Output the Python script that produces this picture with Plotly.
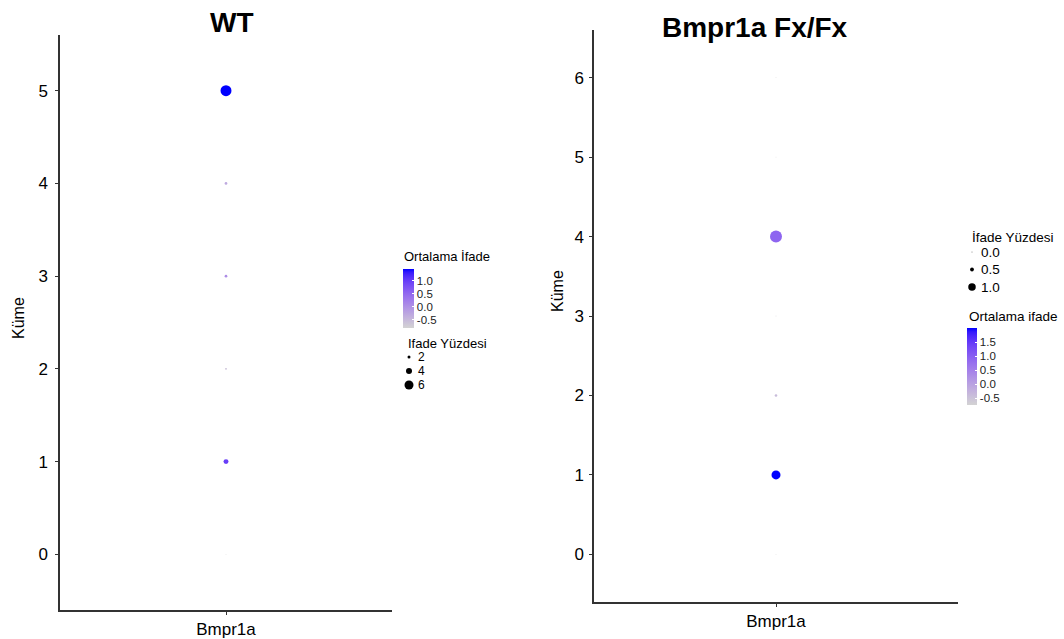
import plotly.graph_objects as go

# ---------------- data ----------------
gene = ["Bmpr1a"]
wt_clusters = [0, 1, 2, 3, 4, 5]
wt_avg_exp = [-0.81, 1.0, -0.6, 0.05, -0.3, 1.46]
wt_pct_exp = [0.6, 3.3, 1.3, 1.8, 1.8, 7.3]
wt_size_breaks = [2, 4, 6]
wt_size_labels = ["2", "4", "6"]

fx_clusters = [0, 1, 2, 3, 4, 5, 6]
fx_avg_exp = [-0.75, 2.0, -0.4, -0.7, 0.9, -0.72, -0.74]
fx_pct_exp = [0.12, 1.2, 0.35, 0.12, 1.6, 0.12, 0.12]
fx_size_breaks = [0.0, 0.5, 1.0]
fx_size_labels = ["0.0", "0.5", "1.0"]

left_ticks = [0, 1, 2, 3, 4, 5]
right_ticks = [0, 1, 2, 3, 4, 5, 6]

# ---------------- styling helpers ----------------
W, H = 1064, 639
FONT = "Liberation Sans, Arial, Helvetica, sans-serif"
WT_SCALE = 1.5   # px diameter per percent
FX_SCALE = 7.5


def _lin(c):
    c = c / 255.0
    return c / 12.92 if c <= 0.04045 else ((c + 0.055) / 1.055) ** 2.4


def _gam(c):
    c = max(0.0, min(1.0, c))
    v = 12.92 * c if c <= 0.0031308 else 1.055 * c ** (1 / 2.4) - 0.055
    return int(round(v * 255))


def rgb2lab(rgb):
    r, g, b = [_lin(v) for v in rgb]
    x = (0.4124 * r + 0.3576 * g + 0.1805 * b) / 0.95047
    y = (0.2126 * r + 0.7152 * g + 0.0722 * b) / 1.0
    z = (0.0193 * r + 0.1192 * g + 0.9505 * b) / 1.08883
    f = lambda t: t ** (1 / 3) if t > 0.008856 else 7.787 * t + 16 / 116
    fx, fy, fz = f(x), f(y), f(z)
    return (116 * fy - 16, 500 * (fx - fy), 200 * (fy - fz))


def lab2rgb(lab):
    L, a, bb = lab
    fy = (L + 16) / 116
    fx = fy + a / 500
    fz = fy - bb / 200
    finv = lambda t: t ** 3 if t ** 3 > 0.008856 else (t - 16 / 116) / 7.787
    x, y, z = finv(fx) * 0.95047, finv(fy), finv(fz) * 1.08883
    r = 3.2406 * x - 1.5372 * y - 0.4986 * z
    g = -0.9689 * x + 1.8758 * y + 0.0415 * z
    b = 0.0557 * x - 0.2040 * y + 1.0570 * z
    return (_gam(r), _gam(g), _gam(b))


lo, hi = rgb2lab((211, 211, 211)), rgb2lab((0, 0, 255))
colorscale = []
for i in range(21):
    t = i / 20
    c = lab2rgb(tuple(lo[k] + (hi[k] - lo[k]) * t for k in range(3)))
    colorscale.append([t, "rgb(%d,%d,%d)" % c])


def px_x(p):
    return p / W


def px_y(p):
    return 1 - p / H


fig = go.Figure()

# main dot traces
fig.add_trace(go.Scatter(
    x=gene * len(wt_clusters), y=wt_clusters, mode="markers",
    marker=dict(size=[p * WT_SCALE for p in wt_pct_exp], color=wt_avg_exp,
                coloraxis="coloraxis", line=dict(width=0), opacity=1),
    xaxis="x", yaxis="y", showlegend=False, hoverinfo="skip"))
fig.add_trace(go.Scatter(
    x=gene * len(fx_clusters), y=fx_clusters, mode="markers",
    marker=dict(size=[p * FX_SCALE for p in fx_pct_exp], color=fx_avg_exp,
                coloraxis="coloraxis2", line=dict(width=0), opacity=1),
    xaxis="x2", yaxis="y2", showlegend=False, hoverinfo="skip"))

# size legends drawn on small helper axes
fig.add_trace(go.Scatter(
    x=[0] * len(wt_size_breaks), y=wt_size_labels, mode="markers",
    marker=dict(size=[b * WT_SCALE for b in wt_size_breaks], color="black",
                line=dict(width=0), opacity=1),
    xaxis="x3", yaxis="y3", showlegend=False, hoverinfo="skip"))
fig.add_trace(go.Scatter(
    x=[0] * len(fx_size_breaks), y=fx_size_labels, mode="markers",
    marker=dict(size=[max(b * FX_SCALE, 0.8) for b in fx_size_breaks], color="black",
                line=dict(width=0), opacity=1),
    xaxis="x4", yaxis="y4", showlegend=False, hoverinfo="skip"))

axis_common = dict(showgrid=False, zeroline=False, showline=True,
                   linecolor="#333333", linewidth=1.5, ticks="outside",
                   ticklen=3, tickwidth=1, tickcolor="#333333",
                   tickfont=dict(family=FONT, size=17, color="black"))
hidden = dict(showgrid=False, zeroline=False, showline=False, ticks="",
              showticklabels=False, fixedrange=True)
key_y = dict(showgrid=False, zeroline=False, showline=False, ticks="",
             type="category", side="right", fixedrange=True, tickmode="array")

fig.update_layout(
    width=W, height=H, margin=dict(l=0, r=0, t=0, b=0),
    paper_bgcolor="white", plot_bgcolor="rgba(0,0,0,0)",
    font=dict(family=FONT, color="black"),
    showlegend=False,
    xaxis=dict(domain=[px_x(60), px_x(392)], anchor="y", type="category",
               range=[-0.6, 0.6], **axis_common),
    yaxis=dict(domain=[px_y(610), px_y(35)], anchor="x", range=[-0.6, 5.6],
               tickvals=left_ticks, ticklabelstandoff=4, **axis_common),
    xaxis2=dict(domain=[px_x(594), px_x(958)], anchor="y2", type="category",
                range=[-0.6, 0.6], **axis_common),
    yaxis2=dict(domain=[px_y(602), px_y(30)], anchor="x2", range=[-0.6, 6.6],
                tickvals=right_ticks, ticklabelstandoff=2, **axis_common),
    xaxis3=dict(domain=[px_x(404), px_x(414)], anchor="y3", range=[-1, 1], **hidden),
    yaxis3=dict(domain=[px_y(392), px_y(350)], anchor="x3", range=[2.5, -0.5],
                tickvals=wt_size_labels, ticktext=wt_size_labels,
                ticklabelstandoff=3,
                tickfont=dict(family=FONT, size=12, color="black"), **key_y),
    xaxis4=dict(domain=[px_x(967), px_x(977)], anchor="y4", range=[-1, 1], **hidden),
    yaxis4=dict(domain=[px_y(295.75), px_y(243.25)], anchor="x4", range=[2.5, -0.5],
                tickvals=fx_size_labels, ticktext=fx_size_labels,
                ticklabelstandoff=3,
                tickfont=dict(family=FONT, size=13.5, color="black"), **key_y),
    coloraxis=dict(colorscale=colorscale, cmin=min(wt_avg_exp), cmax=max(wt_avg_exp),
                   colorbar=dict(x=px_x(403), xanchor="left", xpad=0,
                                 y=px_y(269), yanchor="top", ypad=0,
                                 lenmode="pixels", len=59, thickness=11,
                                 outlinewidth=0, ticks="inside", ticklen=2,
                                 tickcolor="white", tickvals=[-0.5, 0.0, 0.5, 1.0],
                                 ticktext=["-0.5", "0.0", "0.5", "1.0"],
                                 tickfont=dict(family=FONT, size=11.5, color="#222"))),
    coloraxis2=dict(colorscale=colorscale, cmin=min(fx_avg_exp), cmax=max(fx_avg_exp),
                    colorbar=dict(x=px_x(967), xanchor="left", xpad=0,
                                  y=px_y(328), yanchor="top", ypad=0,
                                  lenmode="pixels", len=77, thickness=10,
                                  outlinewidth=0, ticks="inside", ticklen=2,
                                  tickcolor="white",
                                  tickvals=[-0.5, 0.0, 0.5, 1.0, 1.5],
                                  ticktext=["-0.5", "0.0", "0.5", "1.0", "1.5"],
                                  tickfont=dict(family=FONT, size=11.5, color="#222"))),
    annotations=[
        dict(text="<b>WT</b>", x=px_x(232), y=px_y(22), xref="paper", yref="paper",
             xanchor="center", yanchor="middle", showarrow=False,
             font=dict(family=FONT, size=28, color="black")),
        dict(text="<b>Bmpr1a Fx/Fx</b>", x=px_x(755), y=px_y(28), xref="paper",
             yref="paper", xanchor="center", yanchor="middle", showarrow=False,
             font=dict(family=FONT, size=28, color="black")),
        dict(text="Küme", x=px_x(18), y=px_y(318), xref="paper", yref="paper",
             xanchor="center", yanchor="middle", showarrow=False, textangle=-90,
             font=dict(family=FONT, size=16, color="black")),
        dict(text="Küme", x=px_x(557), y=px_y(291), xref="paper", yref="paper",
             xanchor="center", yanchor="middle", showarrow=False, textangle=-90,
             font=dict(family=FONT, size=16, color="black")),
        dict(text="Ortalama İfade", x=px_x(402), y=px_y(256), xref="paper",
             yref="paper", xanchor="left", yanchor="middle", showarrow=False,
             font=dict(family=FONT, size=13, color="black")),
        dict(text="Ortalama ifade", x=px_x(967), y=px_y(316), xref="paper",
             yref="paper", xanchor="left", yanchor="middle", showarrow=False,
             font=dict(family=FONT, size=13.5, color="black")),
        dict(text="Ifade Yüzdesi", x=px_x(406), y=px_y(343), xref="paper",
             yref="paper", xanchor="left", yanchor="middle", showarrow=False,
             font=dict(family=FONT, size=13, color="black")),
        dict(text="İfade Yüzdesi", x=px_x(970), y=px_y(237), xref="paper",
             yref="paper", xanchor="left", yanchor="middle", showarrow=False,
             font=dict(family=FONT, size=13.5, color="black")),
    ],
)

fig.write_html("out.html")
